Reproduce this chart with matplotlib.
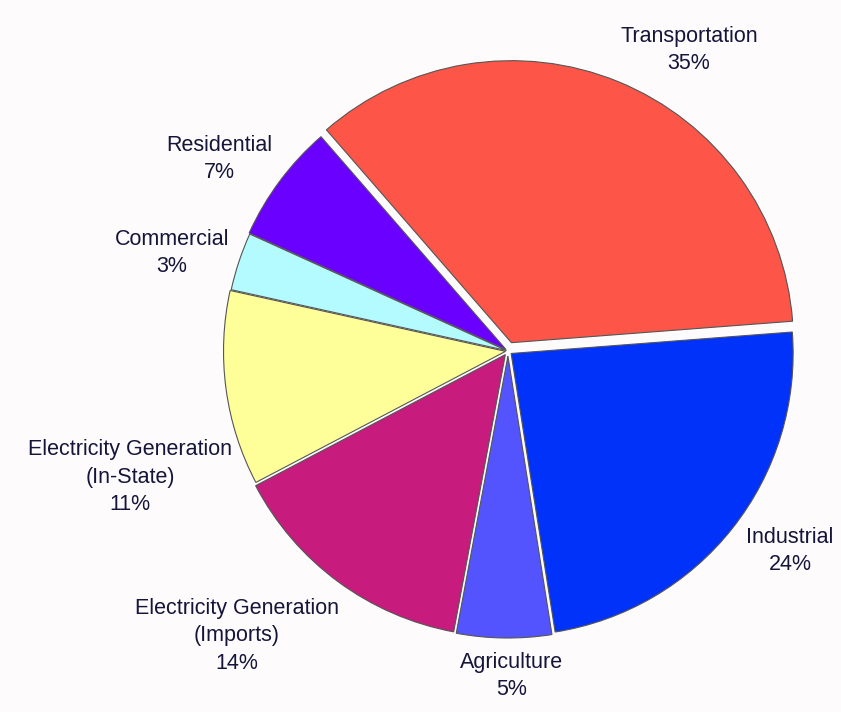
import matplotlib.pyplot as plt

# Data
sectors = ["Transportation", "Industrial", "Agriculture",
           "Electricity Generation\n(Imports)", "Electricity Generation\n(In-State)",
           "Commercial", "Residential"]
shares = [35.0, 23.6, 5.4, 14.3, 11.1, 3.3, 6.8]

colors = ["#fe5549", "#0132fa", "#5454ff", "#c71b7e", "#ffff99", "#b3fbff", "#6a00ff"]
# explode offsets in pixels (pie explode is in data units)
explode = [9, 4, 5, 4.5, 2.5, 1.5, 2.5]
# text positions in pixels (x, y from top)
label_xy = [(689, 50), (790, 551), (512, 676), (237, 636), (130, 477), (172, 253), (219, 159)]

W, H = 841, 712
fig = plt.figure(figsize=(W / 100, H / 100), dpi=100, facecolor="#fdfbfc")
ax = fig.add_axes([0, 0, 1, 1])
ax.set_facecolor("#fdfbfc")

labels = [f"{s}\n{v:.0f}%" for s, v in zip(sectors, shares)]
wedges, texts = ax.pie(shares, labels=labels, colors=colors, explode=explode,
                       startangle=131, counterclock=False,
                       center=(508, -351), radius=282,
                       wedgeprops=dict(edgecolor="#555555", linewidth=0.8),
                       textprops=dict(fontfamily="Liberation Sans", fontsize=15.5,
                                      color="#15153a", linespacing=1.4))

for t, (x, y) in zip(texts, label_xy):
    t.set_position((x, -y))
    t.set_ha("center")
    t.set_va("center")

ax.set_xlim(0, W)
ax.set_ylim(-H, 0)
ax.set_aspect("equal")
ax.axis("off")

fig.savefig("out.png", dpi=100, facecolor=fig.get_facecolor())
